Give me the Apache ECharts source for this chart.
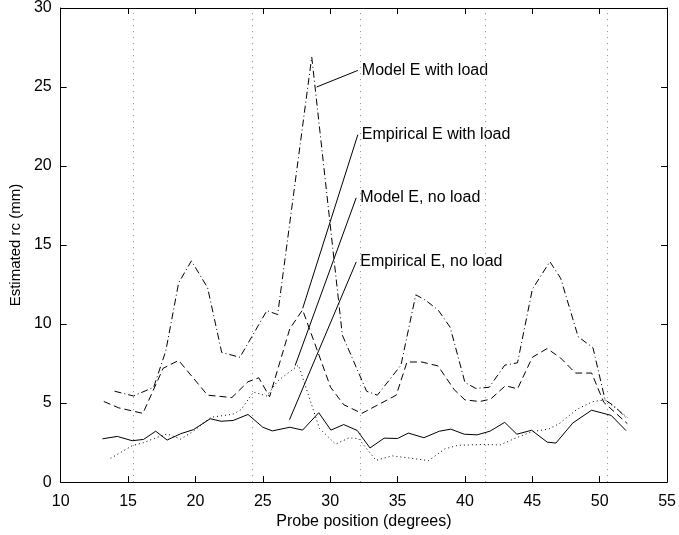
<!DOCTYPE html>
<html>
<head>
<meta charset="utf-8">
<script src="https://cdn.jsdelivr.net/npm/echarts@6/dist/echarts.min.js"></script>
<style>
html,body{margin:0;padding:0;background:#fff;}
#chart{width:679px;height:535px;}
</style>
</head>
<body>
<div id="chart"></div>
<script>
// ---- data ----
const xEmpNoLoad = [13.1,14.2,15.3,16.15,17.05,17.9,18.9,19.85,21.1,21.9,22.8,23.9,25.0,25.7,27.0,27.95,29.15,30.05,31.0,32.0,32.95,34.0,35.0,35.8,36.95,38.1,38.95,39.95,40.9,41.85,42.95,43.85,44.95,46.1,46.75,48.0,49.4,50.85,51.95];
const yEmpNoLoad = [2.74,2.89,2.62,2.70,3.22,2.66,3.06,3.32,4.01,3.85,3.90,4.28,3.47,3.24,3.47,3.29,4.39,3.29,3.64,3.27,2.16,2.78,2.76,3.10,2.81,3.22,3.35,3.03,2.99,3.22,3.78,3.03,3.28,2.53,2.47,3.74,4.55,4.22,3.26];

const xEmpLoad = [13.2,14.3,16.1,17.6,18.75,20.9,22.7,23.9,24.7,25.5,27.0,27.95,30.03,31.0,32.35,34.9,35.7,36.8,38.0,39.2,40.0,41.1,41.9,43.0,43.9,45.0,46.1,47.1,48.2,49.4,50.3,52.05];
const yEmpLoad = [5.1,4.7,4.35,7.2,7.7,5.5,5.35,6.35,6.6,5.4,9.7,10.9,6.0,4.9,4.35,5.5,7.6,7.6,7.35,5.85,5.2,5.1,5.25,6.1,5.9,7.9,8.45,7.85,6.9,6.9,5.05,3.7];

const xModLoad = [14.0,15.4,16.9,17.8,18.75,19.7,20.9,21.95,23.3,25.3,26.1,28.63,30.9,32.7,33.5,35.25,36.35,37.0,38.0,38.9,40.0,40.8,41.8,42.95,43.9,45.0,46.3,47.1,48.4,49.5,50.4,51.1,52.05];
const yModLoad = [5.75,5.45,6.0,8.3,12.6,14.0,12.3,8.2,7.9,10.85,10.6,26.9,9.3,5.75,5.5,7.4,11.85,11.55,10.9,9.8,6.3,5.93,6.0,7.4,7.55,12.2,13.95,12.9,9.2,8.5,5.2,4.8,4.0];

const xModNoLoad = [13.7,15.3,16.15,17.05,17.9,18.9,19.85,21.15,22.8,23.4,24.3,25.3,26.1,27.65,29.2,30.4,31.4,32.1,33.4,34.6,35.9,37.3,38.5,39.5,41.4,42.6,43.8,45.0,46.2,47.0,48.3,49.5,50.4,51.3,52.05];
const yModNoLoad = [1.5,2.3,2.5,2.8,3.05,2.72,3.22,4.1,4.3,4.6,5.7,5.45,6.4,7.4,3.4,2.4,2.8,2.75,1.38,1.66,1.52,1.36,2.1,2.33,2.38,2.35,2.8,3.2,3.35,3.7,4.6,5.1,5.2,4.6,4.1];

// vertical reference (electrode) positions
const refLines = [15.35, 24.2, 32.25, 41.5, 50.55];

// annotations: label text, pointed-at data point, label anchor point
const annText = ['Model E with load', 'Empirical E with load', 'Model E, no load', 'Empirical E, no load'];
const annTarget = [[28.99, 25.0], [27.96, 11.0], [27.40, 7.38], [26.98, 3.95]];
const annAnchor = [[32.05, 26.05], [32.05, 21.98], [31.93, 17.99], [31.93, 13.93]];

const xTicks = {min: 10, max: 55, interval: 5};
const yTicks = {min: 0, max: 30, interval: 5};

// ---- chart ----
const FONT = "'Liberation Sans', Arial, Helvetica, sans-serif";
const zip = (xs, ys) => xs.map((x, i) => [x, ys[i]]);
const chart = echarts.init(document.getElementById('chart'), null, {renderer: 'canvas'});

function lineSeries(name, xs, ys, type) {
  return {
    name, type: 'line', data: zip(xs, ys), showSymbol: false, symbol: 'none',
    lineStyle: {color: '#000', width: 1, type: type},
    silent: true, animation: false, z: 3
  };
}

const series = [
  Object.assign(lineSeries('Empirical E, no load', xEmpNoLoad, yEmpNoLoad, 'solid'), {
    markLine: {
      silent: true, symbol: ['none', 'none'], label: {show: false},
      lineStyle: {color: '#8c8c8c', width: 1, type: [1, 5]},
      data: refLines.map(v => ({xAxis: v})),
      animation: false
    }
  }),
  lineSeries('Empirical E with load', xEmpLoad, yEmpLoad, [7, 4]),
  lineSeries('Model E with load', xModLoad, yModLoad, [7, 3, 1, 3]),
  lineSeries('Model E, no load', xModNoLoad, yModNoLoad, [1, 3])
];

annText.forEach((t, i) => {
  series.push({
    type: 'line', silent: true, animation: false, z: 4,
    showSymbol: true, symbol: 'circle', symbolSize: 0,
    lineStyle: {color: '#000', width: 1},
    itemStyle: {color: '#000'},
    data: [
      {value: annTarget[i], label: {show: false}},
      {value: annAnchor[i], label: {show: true, position: 'right', distance: 4, formatter: t,
        color: '#000', fontSize: 16, fontFamily: FONT}}
    ]
  });
});

const axisCommon = {
  axisLine: {show: true, onZero: false, lineStyle: {color: '#000', width: 1}},
  axisTick: {show: true, inside: true, length: 6, lineStyle: {color: '#000', width: 1}},
  splitLine: {show: false}
};

chart.setOption({
  animation: false,
  backgroundColor: '#fff',
  grid: {left: 54, right: 11, top: 7, bottom: 47, containLabel: false},
  xAxis: [
    Object.assign({
      type: 'value', min: xTicks.min, max: xTicks.max, interval: xTicks.interval, position: 'bottom',
      name: 'Probe position (degrees)', nameLocation: 'middle', nameGap: 24,
      nameTextStyle: {color: '#000', fontSize: 16, fontFamily: FONT},
      axisLabel: {color: '#000', fontSize: 16, fontFamily: FONT, margin: 11}
    }, axisCommon),
    Object.assign({
      type: 'value', min: xTicks.min, max: xTicks.max, interval: xTicks.interval, position: 'top',
      axisLabel: {show: false}
    }, axisCommon)
  ],
  yAxis: [
    Object.assign({
      type: 'value', min: yTicks.min, max: yTicks.max, interval: yTicks.interval, position: 'left',
      name: 'Estimated rc (mm)', nameLocation: 'middle', nameGap: 27, nameRotate: 90,
      nameTextStyle: {color: '#000', fontSize: 15, fontFamily: FONT},
      axisLabel: {color: '#000', fontSize: 16, fontFamily: FONT, margin: 9}
    }, axisCommon),
    Object.assign({
      type: 'value', min: yTicks.min, max: yTicks.max, interval: yTicks.interval, position: 'right',
      axisLabel: {show: false}
    }, axisCommon)
  ],
  series: series
});
</script>
</body>
</html>
